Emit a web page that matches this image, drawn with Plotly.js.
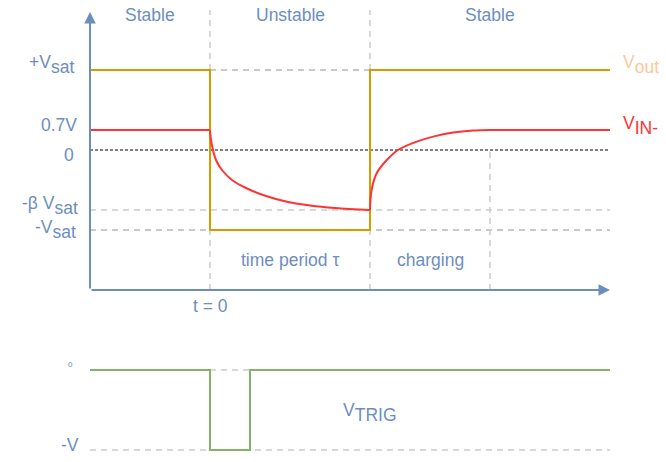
<!DOCTYPE html>
<html><head><meta charset="utf-8">
<script src="https://cdn.plot.ly/plotly-3.0.1.min.js"></script>
<style>html,body{margin:0;padding:0;background:#fff}</style>
</head><body>
<div id="chart" style="width:666px;height:462px"></div>
<script>
// ---------------- data (schematic units) ----------------
const tStart = -3, tEnd = 10;
const tTrigger = 0, tPeriodEnd = 4, tChargeEnd = 7, tTrigPulseEnd = 1;
const vSat = 4, vDiode = 1, vZero = 0, vBetaSat = -3, vNegSat = -4;
const axisBottom = -7, axisTop = 6.9, guideTop = 7;

const regionLabels = ["Stable", "Unstable", "Stable"];
const regionCenters = [-1.5, 2, 7];

const levelLabels = ["+V<sub>sat</sub>", "0.7V", "0", "-β V<sub>sat</sub>", "-V<sub>sat</sub>"];
const levelValues = [4, 1, 0, -3, -4];

const voutT = [-3, 0, 0, 4, 4, 10];
const voutV = [4, 4, -4, -4, 4, 4];

// V_IN- : stable level, discharge during the period, recharge afterwards
const vinFlatT = [-3, 0];
const vinFlatV = [1, 1];
const vinDecayT = [0, 0.025, 0.075, 0.15, 0.3, 0.55, 0.9, 1.4, 1.95, 2.5, 3.125, 4.0];
const vinDecayV = [1, 0.5, 0, -0.5, -1, -1.5, -1.9, -2.3, -2.6, -2.775, -2.9, -3];
const vinRecT = [4.0, 4.04, 4.17, 4.42, 4.7, 5.17, 5.58, 6.08, 6.58, 7, 7.5, 10];
const vinRecV = [-3, -2, -1.15, -0.5, 0, 0.42, 0.67, 0.87, 0.97, 1, 1, 1];

const trigT = [-3, 0, 0, 1, 1, 10];
const trigV = [0, 0, -4, -4, 0, 0];
const trigLevelLabels = ["0", "-V"];
const trigLevelValues = [0, -4];

// ---------------- styling ----------------
const BLUE = '#6c8ebf';
const FONT = '"Liberation Sans", Arial, Helvetica, sans-serif';
const FS = 17.5;
const sub = s => '<span style="font-size:' + (FS / 0.7).toFixed(1) + 'px"><sub>' + s + '</sub></span>';
const fixSub = s => s.replace(/<sub>(.*?)<\/sub>/g, (m, g) => sub(g));

const RED = '#ff3333';
const traces = [
  {x: voutT, y: voutV, xaxis: 'x', yaxis: 'y', mode: 'lines', line: {color: '#d79b00', width: 2}, hoverinfo: 'skip'},
  {x: vinFlatT, y: vinFlatV, xaxis: 'x', yaxis: 'y', mode: 'lines', line: {color: RED, width: 2}, hoverinfo: 'skip'},
  {x: vinDecayT, y: vinDecayV, xaxis: 'x', yaxis: 'y', mode: 'lines', line: {color: RED, width: 2, shape: 'spline', smoothing: 1}, hoverinfo: 'skip'},
  {x: vinRecT, y: vinRecV, xaxis: 'x', yaxis: 'y', mode: 'lines', line: {color: RED, width: 2, shape: 'spline', smoothing: 1}, hoverinfo: 'skip'},
  {x: trigT, y: trigV, xaxis: 'x', yaxis: 'y2', mode: 'lines', line: {color: '#82b366', width: 2}, hoverinfo: 'skip'}
];

const dashLine = (x0, x1, y0, y1, color, yref) => ({
  type: 'line', xref: 'x', yref: yref || 'y', x0: x0, x1: x1, y0: y0, y1: y1,
  layer: 'below', line: {color: color, width: 1.5, dash: '6px,5px'}
});

const shapes = [
  dashLine(tTrigger, tPeriodEnd, vSat, vSat, '#b8b8b8'),
  dashLine(tStart, tEnd, vBetaSat, vBetaSat, '#cccccc'),
  dashLine(tStart, tEnd, vNegSat, vNegSat, '#b8b8b8'),
  dashLine(tTrigger, tTrigger, axisBottom, guideTop, '#cccccc'),
  dashLine(tPeriodEnd, tPeriodEnd, axisBottom, guideTop, '#cccccc'),
  dashLine(tChargeEnd, tChargeEnd, axisBottom, vZero, '#cccccc'),
  {type: 'line', xref: 'x', yref: 'y', x0: tStart, x1: tEnd, y0: vZero, y1: vZero, layer: 'below',
   line: {color: '#000000', width: 1, dash: '3px,2px'}},
  dashLine(tTrigger, tTrigPulseEnd, trigLevelValues[0], trigLevelValues[0], '#cccccc', 'y2'),
  dashLine(tStart, tEnd, trigLevelValues[1], trigLevelValues[1], '#cccccc', 'y2')
];

const txt = (text, x, y, opts) => Object.assign({
  text: text, x: x, y: y, xref: 'x', yref: 'y', showarrow: false,
  font: {family: FONT, size: FS, color: BLUE}, xanchor: 'center', yanchor: 'middle'
}, opts || {});

const annotations = [];
// axis arrows
annotations.push({x: tEnd, y: axisBottom, ax: tStart, ay: axisBottom, xref: 'x', yref: 'y', axref: 'x', ayref: 'y',
  showarrow: true, arrowhead: 2, arrowsize: 1.15, arrowwidth: 2, arrowcolor: BLUE, text: '', standoff: 0, startstandoff: 0});
annotations.push({x: tStart, y: axisTop, ax: tStart, ay: axisBottom, xref: 'x', yref: 'y', axref: 'x', ayref: 'y',
  showarrow: true, arrowhead: 2, arrowsize: 1.15, arrowwidth: 2, arrowcolor: BLUE, text: '', standoff: 0, startstandoff: 0});

// region labels
regionLabels.forEach((s, i) => annotations.push(txt(s, regionCenters[i], 6.75)));

// level labels (left)
const levelShift = [[-14, 6], [-11, 5], [-14, -5], [-10, 5], [-12, 1]];
levelLabels.forEach((s, i) => annotations.push(txt(fixSub(s), tStart, levelValues[i],
  {xanchor: 'right', xshift: levelShift[i][0], yshift: levelShift[i][1]})));

// series labels (right)
annotations.push(txt('V' + sub('out'), tEnd, vSat, {xanchor: 'left', xshift: 11, yshift: 6, font: {family: FONT, size: FS, color: '#ffc699'}}));
annotations.push(txt('V' + sub('IN-'), tEnd, vDiode, {xanchor: 'left', xshift: 11, yshift: 5, font: {family: FONT, size: FS, color: RED}}));

annotations.push(txt('time period τ', 2, -5.5));
annotations.push(txt('charging', 5.5, -5.5));
annotations.push(txt('t = 0', tTrigger, -7.8));

// trigger panel labels
annotations.push(txt(trigLevelLabels[0], -3.5, 0.25, {yref: 'y2', font: {family: FONT, size: 8, color: BLUE}}));
annotations.push(txt(trigLevelLabels[1], -3.5, -3.75, {yref: 'y2'}));
annotations.push(txt('V' + sub('TRIG'), 4, -2.15, {yref: 'y2'}));

const hidden = {showgrid: false, zeroline: false, showticklabels: false, ticks: '', showline: false, fixedrange: true};

const layout = {
  width: 666, height: 462,
  margin: {l: 0, r: 0, t: 0, b: 0, pad: 0},
  paper_bgcolor: '#ffffff', plot_bgcolor: '#ffffff',
  showlegend: false,
  xaxis: Object.assign({range: [-5.25, 11.4]}, hidden),
  yaxis: Object.assign({range: [-9, 7.5], domain: [132 / 462, 1]}, hidden),
  yaxis2: Object.assign({range: [-4.6, 1.75], domain: [0, 127 / 462]}, hidden),
  shapes: shapes,
  annotations: annotations,
  font: {family: FONT, color: BLUE}
};

Plotly.newPlot('chart', traces, layout, {staticPlot: true, displayModeBar: false});
</script>
</body></html>
